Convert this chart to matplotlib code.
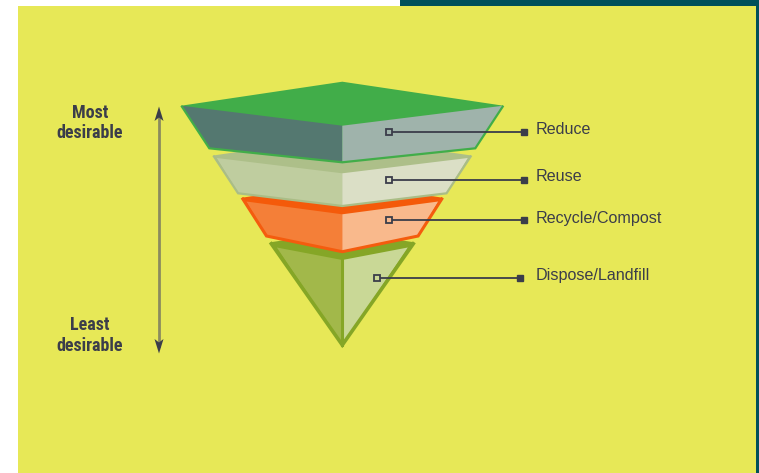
"""Waste hierarchy inverted pyramid."""

import matplotlib
matplotlib.use("Agg")
import matplotlib.pyplot as plt
from matplotlib import font_manager
from matplotlib.patches import Polygon, Rectangle
from matplotlib.transforms import Affine2D

W, H = 759, 473
CX = 342.3

# layers, drawn bottom-up later
labels = ["Reduce", "Reuse", "Recycle/Compost", "Dispose/Landfill"]
top_y = [105.7, 155.5, 197.7, 242.3]       # outer corners of top face
top_hw = [161.0, 129.0, 100.3, 72.0]
top_rise = [24.0, 19.0, 15.0, 11.0]        # back apex above corners
face_y = [105.7, 158.0, 201.5, 247.5]      # top of side faces
face_hw = [161.0, 125.5, 96.0, 65.5]
face_front = [125.7, 173.3, 214.3, 260.0]
bot_y = [148.3, 193.3, 236.0, 345.0]
bot_hw = [133.0, 104.2, 75.8, 0.0]
bot_center = [162.3, 206.0, 251.7, 345.0]

top_col = ["#41ad49", "#adbf89", "#f45a0a", "#85a626"]
left_col = ["#547870", "#bfcd9f", "#f47f38", "#a2b84a"]
right_col = ["#9fb3ab", "#dbdfc6", "#f9b98c", "#c9d896"]
edge_col = ["#41ad49", "#aabd86", "#f45c0e", "#85a626"]
edge_lw = [1.6, 1.6, 2.2, 2.6]

# connectors
conn_x0 = [389, 389, 389, 377]
conn_x1 = [523.5, 523.5, 523.5, 520]
conn_y = [132.5, 179.7, 220.0, 278.3]
text_dy = [-3.5, -3.0, -1.7, -2.6]

DARK = "#3b3d4a"
YELLOW = "#e7e857"
TEAL = "#00505a"


def pick_narrow():
    names = {f.name for f in font_manager.fontManager.ttflist}
    for name in ["Liberation Sans Narrow", "Roboto Condensed", "Open Sans Condensed",
                 "DejaVu Sans Condensed"]:
        if name in names:
            return name
    return None


def main() -> None:
    fig = plt.figure(figsize=(W / 100, H / 100), dpi=100)
    fig.patch.set_facecolor("white")
    ax = fig.add_axes([0, 0, 1, 1])
    ax.set_xlim(0, W)
    ax.set_ylim(H, 0)
    ax.axis("off")

    ax.add_patch(Rectangle((400, 0), W - 400, 8, color=TEAL, lw=0))
    ax.add_patch(Rectangle((755.5, 0), W - 755.5, H, color=TEAL, lw=0))
    ax.add_patch(Rectangle((18, 6), 755.5 - 18, H - 6, color=YELLOW, lw=0))

    for i in reversed(range(len(labels))):
        z = 10 - i
        # whole silhouette in the top-face colour, side faces laid over it
        shape = [(CX - top_hw[i], top_y[i]), (CX, top_y[i] - top_rise[i]),
                 (CX + top_hw[i], top_y[i]), (CX + bot_hw[i], bot_y[i]),
                 (CX, bot_center[i]), (CX - bot_hw[i], bot_y[i])]
        ax.add_patch(Polygon(shape, closed=True, fc=top_col[i], ec="none", zorder=z))
        left = [(CX - face_hw[i], face_y[i]), (CX, face_front[i]),
                (CX, bot_center[i]), (CX - bot_hw[i], bot_y[i])]
        right = [(CX + face_hw[i], face_y[i]), (CX, face_front[i]),
                 (CX, bot_center[i]), (CX + bot_hw[i], bot_y[i])]
        ax.add_patch(Polygon(left, closed=True, fc=left_col[i], ec="none", zorder=z))
        ax.add_patch(Polygon(right, closed=True, fc=right_col[i], ec="none", zorder=z))
        outline = [(CX - top_hw[i], top_y[i]), (CX - bot_hw[i], bot_y[i]),
                   (CX, bot_center[i]), (CX + bot_hw[i], bot_y[i]),
                   (CX + top_hw[i], top_y[i])]
        ax.add_patch(Polygon(outline, closed=False, fill=False, ec=edge_col[i],
                             lw=edge_lw[i], joinstyle="miter", zorder=z))
        if i == 3:
            ax.plot([CX, CX], [face_front[i], bot_center[i]], color=edge_col[i],
                    lw=2.2, zorder=z)

    for i, lab in enumerate(labels):
        ax.plot([conn_x0[i] + 3, conn_x1[i]], [conn_y[i], conn_y[i]], color=DARK,
                lw=1.3, zorder=20)
        ax.plot(conn_x0[i], conn_y[i], marker="s", ms=5, mfc=right_col[i], mec=DARK,
                mew=1.3, zorder=21)
        ax.plot(conn_x1[i], conn_y[i], marker="s", ms=4.5, mfc=DARK, mec=DARK,
                zorder=21)
        ax.text(536, conn_y[i] + text_dy[i], lab, fontsize=11.6, color=DARK,
                family="Liberation Sans", va="center", ha="left")

    # desirability arrow
    ax.plot([159, 159], [114, 346], color="#8b8b5e", lw=2, zorder=5)
    ax.add_patch(Polygon([(159, 106.5), (154.5, 121), (159, 117.5), (163.5, 121)],
                         closed=True, fc=DARK, ec="none", zorder=6))
    ax.add_patch(Polygon([(159, 353.5), (154.5, 339), (159, 342.5), (163.5, 339)],
                         closed=True, fc=DARK, ec="none", zorder=6))

    narrow = pick_narrow()
    if narrow:
        side_font = dict(fontsize=13, family=[narrow, "DejaVu Sans"])
    else:
        side_font = dict(fontsize=12.5, family=["DejaVu Sans"])
    side_font.update(color=DARK, fontweight="bold", ha="center", va="center")
    for y, s in zip([113, 133, 325, 346], ["Most", "desirable", "Least", "desirable"]):
        t = ax.text(90, y, s, **side_font)
        if not narrow:
            # squeeze horizontally around the centre to mimic a condensed face
            t.set_transform(Affine2D().scale(0.72, 1).translate(90 * 0.28, 0)
                            + ax.transData)

    fig.savefig("out.png", dpi=100, facecolor=fig.get_facecolor())
    plt.close(fig)


if __name__ == "__main__":
    main()
